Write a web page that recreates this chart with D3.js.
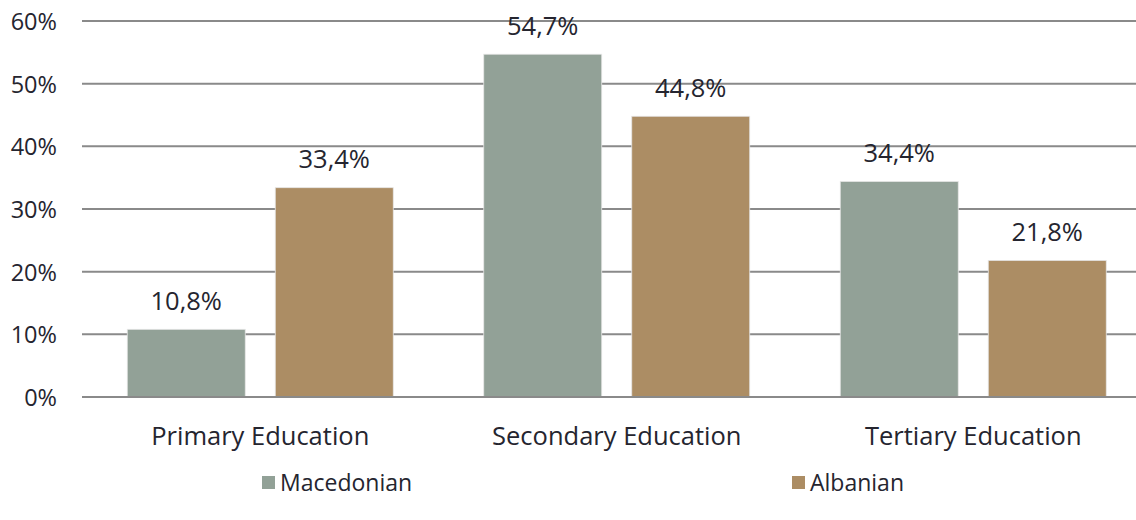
<!DOCTYPE html>
<html>
<head>
<meta charset="utf-8">
<script src="https://cdn.jsdelivr.net/npm/d3@7"></script>
<style>
  html, body { margin: 0; padding: 0; background: #ffffff; }
  svg { display: block; }
  text { font-family: "Open Sans", "Noto Sans", sans-serif; fill: #25252f; }
</style>
</head>
<body>
<svg id="chart" width="1136" height="520"></svg>
<script>
const categories = ["Primary Education", "Secondary Education", "Tertiary Education"];
const seriesNames = ["Macedonian", "Albanian"];
const macedonian = [10.8, 54.7, 34.4];
const albanian = [33.4, 44.8, 21.8];
const valueLabels = [["10,8%", "54,7%", "34,4%"], ["33,4%", "44,8%", "21,8%"]];
const yTicks = [0, 10, 20, 30, 40, 50, 60];
const yTickLabels = ["0%", "10%", "20%", "30%", "40%", "50%", "60%"];
const colors = ["#92A197", "#AC8D64"];

const seriesValues = [macedonian, albanian];
const svg = d3.select("#chart");

const x0 = d3.scaleBand().domain(categories).range([82, 1151.5]).paddingInner(0).paddingOuter(0);
const x1 = d3.scaleBand().domain(seriesNames).range([0, x0.bandwidth()])
  .paddingInner(0.2027).paddingOuter(0.3058);
const y = d3.scaleLinear().domain([0, 60]).range([397, 21]);

// gridlines
const grid = svg.append("g");
grid.selectAll("line").data(yTicks).join("line")
  .attr("x1", 82).attr("x2", 1136)
  .attr("y1", d => y(d)).attr("y2", d => y(d))
  .attr("stroke", "#8a8a8a").attr("stroke-width", 2);

// y tick labels
const yAxis = d3.axisLeft(y).tickValues(yTicks).tickSize(0).tickPadding(0)
  .tickFormat((d, i) => yTickLabels[i]);
const ya = svg.append("g").attr("transform", "translate(57,0)").call(yAxis);
ya.select(".domain").remove();
ya.selectAll("text")
  .attr("font-size", "23.5px")
  .attr("font-family", "'Open Sans', sans-serif")
  .attr("fill", "#25252f")
  .attr("dy", "0.36em");

// bars
const bars = svg.append("g");
seriesNames.forEach((s, si) => {
  const g = bars.append("g");
  g.selectAll("rect").data(categories).join("rect")
    .attr("x", c => x0(c) + x1(s))
    .attr("width", x1.bandwidth())
    .attr("y", (c, i) => y(seriesValues[si][i]))
    .attr("height", (c, i) => y(0) - y(seriesValues[si][i]))
    .attr("fill", colors[si])
    .attr("stroke", "#e6e6e6").attr("stroke-width", 0.8);
  g.selectAll("text").data(categories).join("text")
    .attr("x", c => x0(c) + x1(s) + x1.bandwidth() / 2)
    .attr("y", (c, i) => y(seriesValues[si][i]) - 19.5)
    .attr("text-anchor", "middle")
    .attr("font-size", "25.5px")
    .text((c, i) => valueLabels[si][i]);
});

// redraw baseline on top
svg.append("line").attr("x1", 82).attr("x2", 1136)
  .attr("y1", y(0)).attr("y2", y(0))
  .attr("stroke", "#8a8a8a").attr("stroke-width", 2);

// category labels
const xAxis = d3.axisBottom(x0).tickSize(0).tickPadding(0);
const xa = svg.append("g").attr("transform", "translate(0,445)").call(xAxis);
xa.select(".domain").remove();
xa.selectAll("text")
  .attr("font-size", "25.5px")
  .attr("font-family", "'Open Sans', sans-serif")
  .attr("fill", "#25252f")
  .attr("dy", "0");

// legend
const legendX = [262, 792];
const legend = svg.append("g");
seriesNames.forEach((s, i) => {
  legend.append("rect")
    .attr("x", legendX[i]).attr("y", 476)
    .attr("width", 13).attr("height", 13)
    .attr("fill", colors[i]);
  legend.append("text")
    .attr("x", legendX[i] + 18).attr("y", 491)
    .attr("font-size", "23px")
    .text(s);
});
</script>
</body>
</html>
